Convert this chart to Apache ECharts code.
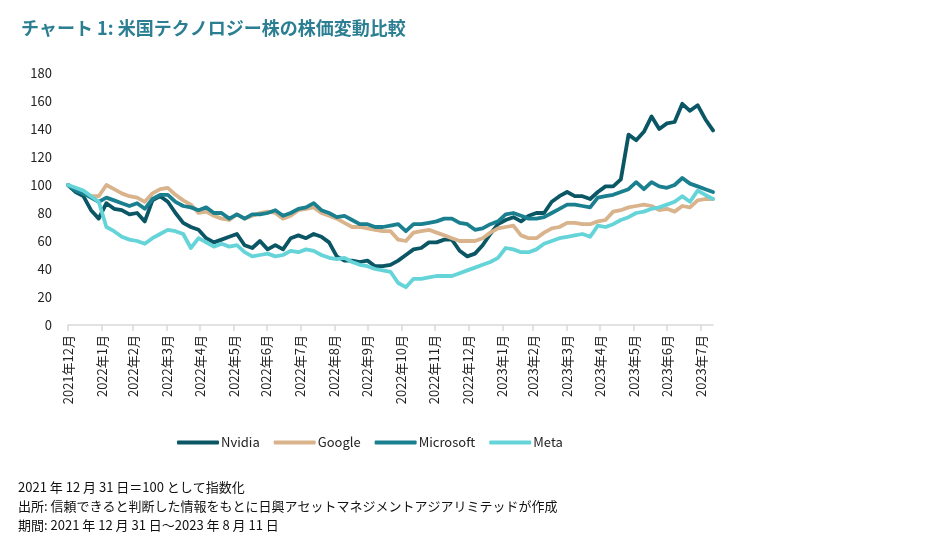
<!DOCTYPE html>
<html><head><meta charset="utf-8">
<script src="https://cdn.jsdelivr.net/npm/echarts@6/dist/echarts.min.js"></script>
<style>html,body{margin:0;padding:0;background:#fff;}#c{width:943px;height:549px;}</style>
</head><body><div id="c"></div>
<script>
// Weekly observations (Fridays) from 2021-12-31 to 2023-08-11, index 2021-12-31 = 100
var startDate = '2021-12-31';
var weeksCount = 85;
var nvidia = [100,95,92,82,76,87,83,82,79,80,74,89,92,88,80,73,70,68,62,59,61,63,65,57,55,60,54,57,54,62,
  64,62,65,63,59,49,46,46,45,46,42,42,43,46,50,54,55,59,59,61,61,53,49,51,57,65,72,75,77,74,
  78,80,80,88,92,95,92,92,90,95,99,99,104,136,132,138,149,140,144,145,158,153,157,147,139];
var google = [100,97,94,92,92,100,97,94,92,91,88,94,97,98,93,89,86,80,81,78,76,75,79,76,78,80,81,80,76,78,
  82,83,84,80,78,76,73,70,70,69,68,67,67,61,60,66,67,68,66,64,62,60,60,60,62,66,69,70,71,64,
  62,62,66,69,70,73,73,72,72,74,75,81,82,84,85,86,85,82,83,81,85,84,89,90,90];
var microsoft = [100,96,94,91,88,91,89,87,85,87,83,90,93,93,88,85,84,82,84,80,80,76,79,76,79,79,80,82,78,80,
  83,84,87,82,80,77,78,75,72,72,70,70,71,72,67,72,72,73,74,76,76,73,72,68,69,72,74,79,80,78,
  76,76,77,80,83,86,86,85,84,91,92,93,95,97,102,97,102,99,98,100,105,101,99,97,95];
var meta = [100,98,96,92,88,70,67,63,61,60,58,62,65,68,67,65,55,62,59,56,58,56,57,52,49,50,51,49,50,53,
  52,54,53,50,48,47,48,45,43,42,40,39,38,30,27,33,33,34,35,35,35,37,39,41,43,45,48,55,54,52,
  52,54,58,60,62,63,64,65,63,71,70,72,75,77,80,81,83,84,86,88,92,88,96,93,90];
var seriesNames = ['Nvidia', 'Google', 'Microsoft', 'Meta'];
var tickDates = ['2021-12-31','2022-01-31','2022-02-28','2022-03-31','2022-04-30','2022-05-31','2022-06-30',
  '2022-07-31','2022-08-31','2022-09-30','2022-10-31','2022-11-30','2022-12-31','2023-01-31','2023-02-28',
  '2023-03-31','2023-04-30','2023-05-31','2023-06-30','2023-07-31'];
var tickLabels = ['2021年12月','2022年1月','2022年2月','2022年3月','2022年4月','2022年5月','2022年6月',
  '2022年7月','2022年8月','2022年9月','2022年10月','2022年11月','2022年12月','2023年1月','2023年2月',
  '2023年3月','2023年4月','2023年5月','2023年6月','2023年7月'];
var yTicks = [0,20,40,60,80,100,120,140,160,180];
var titleText = 'チャート 1: 米国テクノロジー株の株価変動比較';
var notes = ['2021 年 12 月 31 日＝100 として指数化',
  '出所: 信頼できると判断した情報をもとに日興アセットマネジメントアジアリミテッドが作成',
  '期間: 2021 年 12 月 31 日～2023 年 8 月 11 日'];
var endDate = '2023-08-11';

function dayOffset(s){
  var p = s.split('-'), q = startDate.split('-');
  return Math.round((Date.UTC(+p[0], +p[1]-1, +p[2]) - Date.UTC(+q[0], +q[1]-1, +q[2])) / 86400000);
}
var days = [];
for (var i = 0; i < weeksCount; i++) days.push(7 * i);
var tickDays = tickDates.map(dayOffset);
var labelMap = {};
tickDays.forEach(function(t, k){ labelMap[t] = tickLabels[k]; });
function pair(arr){ return arr.map(function(v, k){ return [days[k], v]; }); }

var colors = ['#0a5664', '#d8b38c', '#1a7f8f', '#64d4d9'];
var seriesData = [nvidia, google, microsoft, meta];
var FONT = '"Noto Sans CJK JP", "Noto Sans", sans-serif';

var chart = echarts.init(document.getElementById('c'), null, {renderer: 'canvas'});
chart.setOption({
  animation: false,
  color: colors,
  textStyle: {fontFamily: FONT},
  title: {
    text: titleText, left: 16, top: 14,
    textStyle: {fontFamily: FONT, fontSize: 18, fontWeight: 'bold', color: '#2c7f92'}
  },
  legend: {
    data: seriesNames, left: 172, top: 431, itemWidth: 42, itemHeight: 4, itemGap: 14,
    icon: 'roundRect',
    textStyle: {fontFamily: FONT, fontSize: 13, color: '#222', padding: [0,0,0,-3]}
  },
  grid: {left: 68, right: 230, top: 73, height: 252},
  xAxis: {
    type: 'value',
    min: 0, max: dayOffset(endDate),
    axisLine: {show: true, lineStyle: {color: '#d9d9d9', width: 1.5}},
    axisTick: {show: true, customValues: tickDays, length: 6, lineStyle: {color: '#d9d9d9', width: 1.5}},
    axisLabel: {
      customValues: tickDays, rotate: 90, fontSize: 13, color: '#222', fontFamily: FONT, margin: 10,
      formatter: function(v){ return labelMap[v] || ''; }
    },
    splitLine: {show: false}
  },
  yAxis: {
    type: 'value', min: yTicks[0], max: yTicks[yTicks.length-1], interval: 20,
    axisLine: {show: false}, axisTick: {show: false}, splitLine: {show: false},
    axisLabel: {fontSize: 13, color: '#222', fontFamily: FONT, margin: 16}
  },
  series: seriesNames.map(function(n, k){
    return {
      name: n, type: 'line', data: pair(seriesData[k]), showSymbol: false, symbol: 'none',
      lineStyle: {width: 3.8, color: colors[k], cap: 'round', join: 'round'},
      itemStyle: {color: colors[k]}
    };
  }),
  graphic: notes.map(function(t, k){
    return {type: 'text', left: 18, top: 481 + k*19,
      style: {text: t, fill: '#111', font: '13px ' + FONT}};
  })
});
</script></body></html>
